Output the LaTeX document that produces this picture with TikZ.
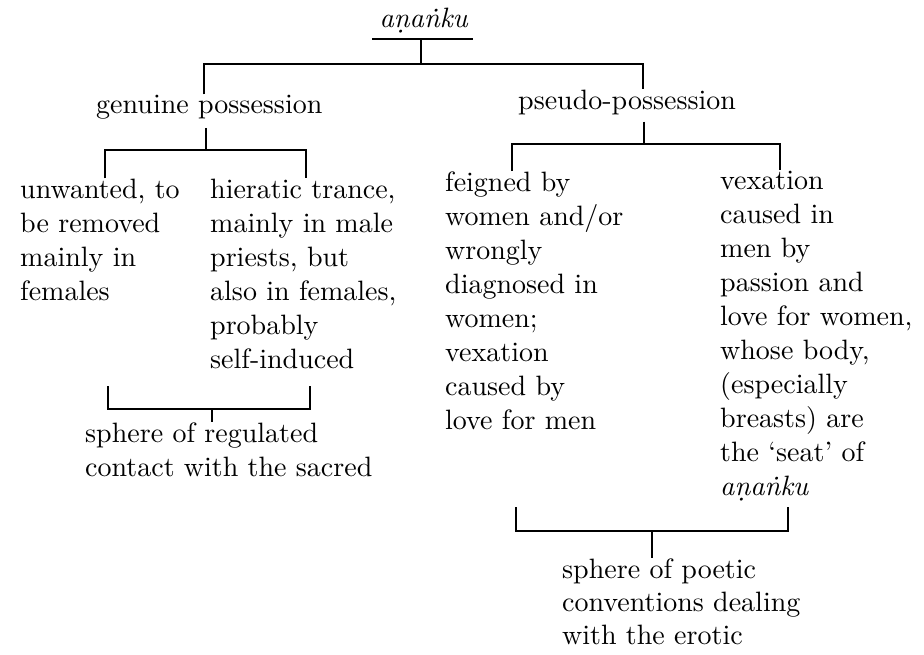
\documentclass[tikz,border=0pt]{standalone}
\usepackage{fontspec}
\setmainfont{lmroman10-regular}[Extension=.otf,ItalicFont=lmroman10-italic]

\begin{document}
\begin{tikzpicture}[x=1pt,y=-1pt,
    word/.style={inner sep=0pt,font=\fontsize{28}{34}\selectfont},
    col/.style={word,anchor=base west,align=left,text width=#1},
    bar/.style={line width=1.8pt},
    gap/.style={shorten <=#1}]
    \useasboundingbox (0,0) rectangle (924,654);
    % heading and first split
    \node [word,anchor=base] (ananku) at (424,27) {\textit{aṇaṅku}};
    \node [col=240pt] (gen) at (96,113) {genuine possession};
    \node [col=240pt] (pse) at (518,109) {pseudo-possession};
    % the four readings
    \node [col=180pt] (unw) at (20,198) {unwanted, to\\be removed\\mainly in\\females};
    \node [col=210pt] (hie) at (210,198) {hieratic trance,\\mainly in male\\priests, but\\also in females,\\probably\\self-induced};
    \node [col=210pt] (fei) at (445,191) {feigned by\\women and/or\\wrongly\\diagnosed in\\women;\\vexation\\caused by\\love for men};
    \node [col=210pt] (vex) at (720,189) {vexation\\caused in\\men by\\passion and\\love for women,\\whose body,\\(especially\\breasts) are\\the `seat' of\\\textit{aṇaṅku}};
    % the two spheres
    \node [col=320pt] (sac) at (85,442) {sphere of regulated\\contact with the sacred};
    \node [col=300pt,font=\fontsize{28}{33}\selectfont] (ero) at (562,578) {sphere of poetic\\conventions dealing\\with the erotic};

    \coordinate (ul1) at (372,39);
    \coordinate (ul2) at (473,39);
    \coordinate (tm) at (421,64);
    \coordinate (tl) at (204,64);
    \coordinate (tr) at (643,64);
    \draw [bar] (ul1) -- (ul2);
    \draw [bar] (tm |- ul1) -- (tm);
    \draw [bar] (gen.north -| tl) -- (tl) -- (tr) -- (pse.north -| tr);

    \coordinate (gm) at (206,150);
    \coordinate (gl) at (105,150);
    \coordinate (gr) at (306,150);
    \draw [bar,gap=9pt] (gen.south -| gm) -- (gm);
    \draw [bar] (unw.north -| gl) -- (gl) -- (gr) -- (hie.north -| gr);

    \coordinate (pm) at (644,144);
    \coordinate (pl) at (512,144);
    \coordinate (pr) at (780,144);
    \draw [bar,gap=7pt] (pse.south -| pm) -- (pm);
    \draw [bar] (fei.north -| pl) -- (pl) -- (pr) -- (vex.north -| pr);

    \coordinate (lm) at (212,409);
    \coordinate (ll) at (108,409);
    \coordinate (lr) at (310,409);
    \draw [bar] ([yshift=23pt]ll) -- (ll) -- (lr) -- ([yshift=23pt]lr);
    \draw [bar] (lm) -- (sac.north -| lm);

    \coordinate (rm) at (652,531);
    \coordinate (rl) at (516,531);
    \coordinate (rr) at (788,531);
    \draw [bar] ([yshift=24pt]rl) -- (rl) -- (rr) -- ([yshift=24pt]rr);
    \draw [bar] (rm) -- (ero.north -| rm);
\end{tikzpicture}
\end{document}
